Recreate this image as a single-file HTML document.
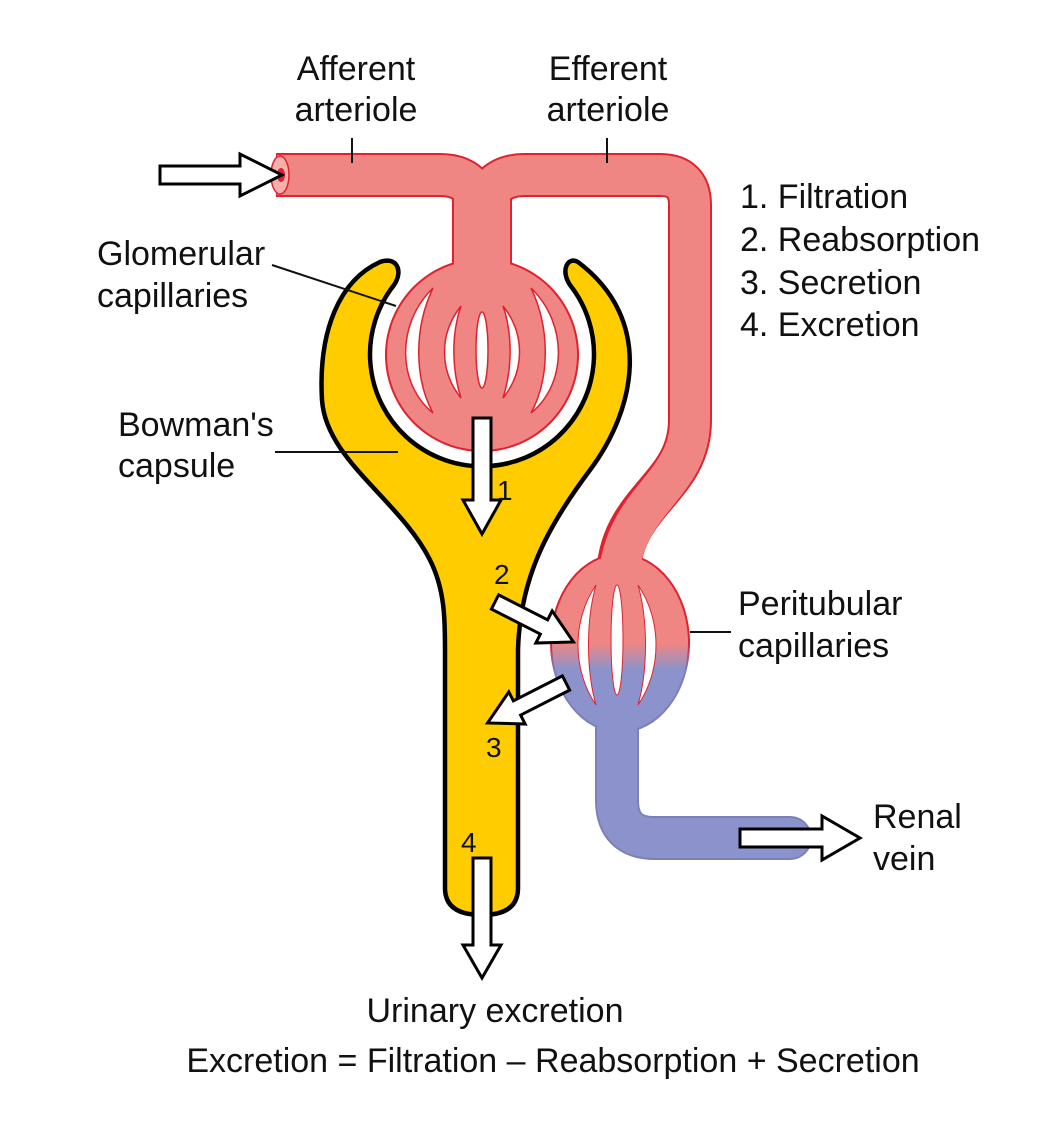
<!DOCTYPE html>
<html><head><meta charset="utf-8"><style>
html,body{margin:0;padding:0;background:#fff;}
svg{display:block;}
text{font-family:"Liberation Sans",Arial,sans-serif;fill:#111;}
</style></head><body>
<svg width="1060" height="1126" viewBox="0 0 1060 1126" xmlns="http://www.w3.org/2000/svg">
<defs>
<linearGradient id="pg" x1="0" y1="0" x2="0" y2="1">
<stop offset="0" stop-color="#ef8683"/><stop offset="0.5" stop-color="#ef8683"/><stop offset="0.65" stop-color="#8c93cc"/><stop offset="1" stop-color="#8c93cc"/>
</linearGradient>
<linearGradient id="pgs" x1="0" y1="0" x2="0" y2="1">
<stop offset="0" stop-color="#e0222e"/><stop offset="0.5" stop-color="#e0222e"/><stop offset="0.65" stop-color="#7a80b8"/><stop offset="1" stop-color="#7a80b8"/>
</linearGradient>
</defs>

<path d="M380,262 C340,280 318,330 322,400 C326,460 400,500 430,560 C445,590 445,620 445,650 L445,888 Q445,915 482,915 Q518,915 518,888 L518,650 C520,580 545,530 590,470 C635,410 655,320 578,262 C568,256 560,270 570,285 A112,112 0 1 1 394,285 C404,270 396,256 380,262 Z" fill="#ffcc00" stroke="#000" stroke-width="4.5" stroke-linejoin="round"/>

<g fill="none" stroke="#e0222e" stroke-width="44" stroke-linecap="butt" stroke-linejoin="round">
<path d="M276,175 L440,175 Q482,175 482,225"/>
<path d="M482,225 Q482,175 525,175 L660,175 Q690,175 690,205 L690,420 C690,490 618,500 618,580"/>
</g>
<rect x="452" y="190" width="60" height="80" rx="6" fill="#e0222e"/>
<circle cx="482" cy="355" r="97" fill="#e0222e"/>
<path d="M617,720 L617,800 Q617,838 655,838 L790,838" fill="none" stroke="#7a80b8" stroke-width="44" stroke-linecap="round" stroke-linejoin="round"/>
<ellipse cx="620" cy="643" rx="70" ry="90" fill="url(#pgs)"/>

<g fill="none" stroke="#ef8683" stroke-width="40" stroke-linecap="butt" stroke-linejoin="round">
<path d="M277,175 L440,175 Q482,175 482,225"/>
<path d="M482,225 Q482,175 525,175 L660,175 Q690,175 690,205 L690,420 C690,490 618,500 618,590"/>
</g>
<rect x="454" y="192" width="56" height="80" rx="5" fill="#ef8683"/>
<circle cx="482" cy="355" r="95" fill="#ef8683"/>
<path d="M617,720 L617,800 Q617,838 655,838 L790,838" fill="none" stroke="#8c93cc" stroke-width="40" stroke-linecap="round" stroke-linejoin="round"/>
<ellipse cx="620" cy="643" rx="68" ry="88" fill="url(#pg)"/>
<ellipse cx="280" cy="175" rx="9" ry="19" fill="#f6b0ac" stroke="#e0222e" stroke-width="1.5"/>
<ellipse cx="281" cy="175" rx="4" ry="7" fill="#e0222e"/>

<g fill="#fff" stroke="#e0222e" stroke-width="1.5">
<path d="M433,288 C395,325 398,385 433,413 C415,380 413,330 433,288 Z"/>
<path d="M531,288 C569,325 566,385 531,413 C549,380 551,330 531,288 Z"/>
<path d="M461,306 C438,335 440,372 461,398 C452,370 451,335 461,306 Z"/>
<path d="M503,306 C526,335 524,372 503,398 C512,370 513,335 503,306 Z"/>
<ellipse cx="482" cy="350" rx="6" ry="38"/>
</g>
<g fill="#fff" stroke="#e0222e" stroke-width="1">
<path d="M596,585 C572,620 572,670 596,705 C586,670 586,620 596,585 Z"/>
<path d="M638,585 C662,620 662,670 638,705 C648,670 648,620 638,585 Z"/>
<ellipse cx="617" cy="640" rx="6" ry="55"/>
</g>

<g fill="#fff" stroke="#000" stroke-width="3" stroke-linejoin="miter">
<path d="M160,166 L240,166 L240,154 L282,175 L240,196 L240,184 L160,184 Z"/>
<path d="M473,418 L491,418 L491,500 L501,500 L482,534 L463,500 L473,500 Z"/>
<path d="M473,858 L491,858 L491,945 L501,945 L482,978 L463,945 L473,945 Z"/>
<path d="M740,829 L822,829 L822,816 L860,838 L822,860 L822,847 L740,847 Z"/>
<g transform="translate(495,602) rotate(27)"><path d="M0,-8 L55,-8 L55,-18 L88,0 L55,18 L55,8 L0,8 Z"/></g>
<g transform="translate(566,683) rotate(153)"><path d="M0,-8 L55,-8 L55,-18 L88,0 L55,18 L55,8 L0,8 Z"/></g>
</g>

<g stroke="#111" stroke-width="2">
<line x1="352" y1="138" x2="352" y2="163"/>
<line x1="607" y1="138" x2="607" y2="163"/>
<line x1="272" y1="265" x2="396" y2="306"/>
<line x1="275" y1="452" x2="398" y2="452"/>
<line x1="690" y1="632" x2="731" y2="632"/>
</g>

<g font-size="34">
<text x="356" y="80" text-anchor="middle">Afferent</text>
<text x="356" y="121" text-anchor="middle">arteriole</text>
<text x="608" y="80" text-anchor="middle">Efferent</text>
<text x="608" y="121" text-anchor="middle">arteriole</text>
<text x="740" y="208">1. Filtration</text>
<text x="740" y="251">2. Reabsorption</text>
<text x="740" y="294">3. Secretion</text>
<text x="740" y="336">4. Excretion</text>
<text x="97" y="265">Glomerular</text>
<text x="97" y="307">capillaries</text>
<text x="118" y="436">Bowman's</text>
<text x="118" y="477">capsule</text>
<text x="738" y="615">Peritubular</text>
<text x="738" y="657">capillaries</text>
<text x="873" y="828">Renal</text>
<text x="873" y="870">vein</text>
<text x="495" y="1022" text-anchor="middle">Urinary excretion</text>
<text x="553" y="1072" text-anchor="middle">Excretion = Filtration – Reabsorption + Secretion</text>
</g>
<g font-size="28" style="fill:#1a1000">
<text x="497" y="500">1</text>
<text x="494" y="584">2</text>
<text x="486" y="757">3</text>
<text x="461" y="852">4</text>
</g>
</svg>
</body></html>
